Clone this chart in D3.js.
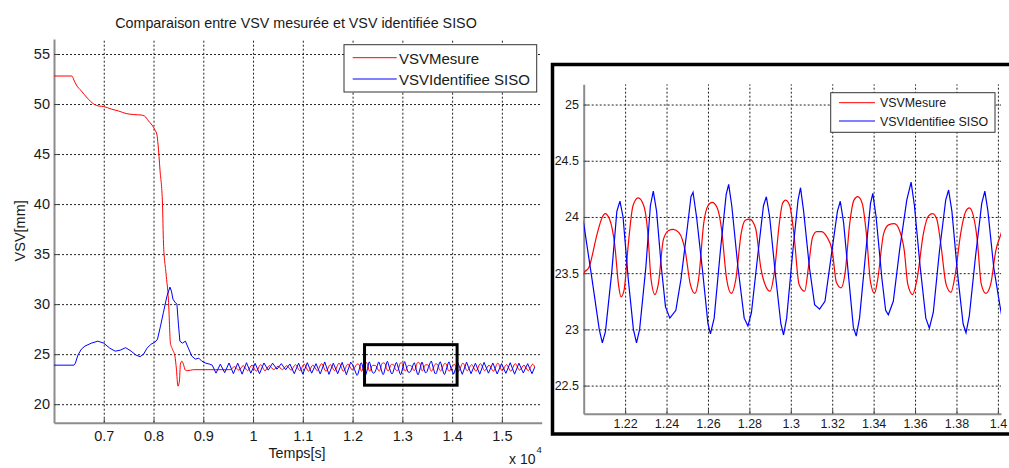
<!DOCTYPE html>
<html>
<head>
<meta charset="utf-8">
<script src="https://cdn.jsdelivr.net/npm/d3@7"></script>
<style>
  body { margin: 0; background: #fff; }
  text { font-family: "Liberation Sans", Arial, sans-serif; fill: #1a1a1a; }
</style>
</head>
<body>
<script>
// tick values (time in x 10^4 s)
var xTicksMain = [0.7, 0.8, 0.9, 1, 1.1, 1.2, 1.3, 1.4, 1.5];
var yTicksMain = [20, 25, 30, 35, 40, 45, 50, 55];
var xTicksZoom = [1.22, 1.24, 1.26, 1.28, 1.3, 1.32, 1.34, 1.36, 1.38, 1.4];
var yTicksZoom = [22.5, 23, 23.5, 24, 24.5, 25];

var seriesNames = ["VSVMesure", "VSVIdentifiee SISO"];
var seriesColors = ["#ff0000", "#0000ff"];

// measured VSV : start-up transient
var mesureTransient = [
  [0.600, 52.8], [0.636, 52.8], [0.640, 52.4], [0.645, 51.9], [0.655, 51.3], [0.667, 50.6],
  [0.680, 50.0], [0.690, 49.8], [0.700, 49.75], [0.715, 49.5], [0.730, 49.3], [0.745, 49.05],
  [0.760, 48.95], [0.775, 48.9], [0.782, 48.8], [0.790, 48.3], [0.797, 47.9], [0.803, 47.4],
  [0.807, 46.9], [0.809, 46.0], [0.813, 43.4], [0.818, 40.0], [0.820, 36.1], [0.825, 33.1],
  [0.830, 30.4], [0.834, 26.1], [0.838, 25.5], [0.843, 24.8], [0.846, 23.5], [0.849, 21.8],
  [0.852, 22.3], [0.854, 24.0], [0.857, 24.3], [0.860, 24.0], [0.864, 23.4], [0.869, 23.35],
  [0.880, 23.45], [0.900, 23.45], [0.925, 23.45], [0.945, 23.45], [0.954, 23.45]
];

// measured VSV : oscillations
var mesureOsc = [
  [0.9628, 23.75], [0.9715, 23.40], [0.9802, 23.85], [0.9890, 23.35], [0.9978, 23.90],
  [1.0065, 23.30], [1.0152, 23.95], [1.0240, 23.35], [1.0328, 23.85], [1.0415, 23.45],
  [1.0502, 23.80], [1.0590, 23.45], [1.0678, 23.85], [1.0765, 23.40], [1.0852, 23.95],
  [1.0940, 23.35], [1.1028, 24.00], [1.1115, 23.30], [1.1202, 23.90], [1.1290, 23.35],
  [1.1378, 24.05], [1.1465, 23.30], [1.1552, 23.95], [1.1640, 23.35], [1.1728, 24.10],
  [1.1815, 23.30], [1.1905, 24.00], [1.1990, 23.45],
  [1.2000, 23.50], [1.2025, 23.55], [1.2065, 23.85], [1.2090, 24.00], [1.2103, 24.03],
  [1.2125, 23.98], [1.2150, 23.75], [1.2168, 23.40], [1.2180, 23.29], [1.2195, 23.35],
  [1.2215, 23.75], [1.2238, 24.10], [1.2263, 24.17], [1.2290, 24.10], [1.2310, 23.85],
  [1.2325, 23.45], [1.2344, 23.31], [1.2360, 23.40], [1.2385, 23.80], [1.2410, 23.88],
  [1.2432, 23.89], [1.2460, 23.86], [1.2490, 23.70], [1.2515, 23.40], [1.2537, 23.32],
  [1.2555, 23.45], [1.2580, 23.95], [1.2600, 24.10], [1.2620, 24.13], [1.2645, 24.08],
  [1.2665, 23.90], [1.2690, 23.45], [1.2713, 23.32], [1.2735, 23.45], [1.2760, 23.85],
  [1.2780, 23.97], [1.2801, 23.98], [1.2830, 23.90], [1.2855, 23.55], [1.2880, 23.38],
  [1.2900, 23.34], [1.2920, 23.50], [1.2945, 23.95], [1.2960, 24.12], [1.2975, 24.15],
  [1.2995, 24.10], [1.3015, 23.85], [1.3040, 23.40], [1.3067, 23.34], [1.3085, 23.55],
  [1.3105, 23.82], [1.3125, 23.87], [1.3147, 23.87], [1.3175, 23.82], [1.3200, 23.70],
  [1.3220, 23.42], [1.3243, 23.37], [1.3262, 23.50], [1.3285, 23.95], [1.3305, 24.15],
  [1.3323, 24.18], [1.3345, 24.12], [1.3365, 23.85], [1.3385, 23.42], [1.3404, 23.32],
  [1.3420, 23.45], [1.3448, 23.85], [1.3472, 23.93], [1.3500, 23.94], [1.3525, 23.88],
  [1.3548, 23.70], [1.3565, 23.40], [1.3588, 23.31], [1.3610, 23.45], [1.3640, 23.85],
  [1.3665, 24.01], [1.3685, 24.03], [1.3705, 23.98], [1.3725, 23.75], [1.3750, 23.40],
  [1.3773, 23.33], [1.3795, 23.50], [1.3820, 23.85], [1.3845, 24.05], [1.3862, 24.08],
  [1.3880, 24.02], [1.3900, 23.80], [1.3920, 23.40], [1.3942, 23.32], [1.3965, 23.40],
  [1.3990, 23.70], [1.4015, 23.85],
  [1.4040, 24.00], [1.4130, 23.30], [1.4215, 24.10], [1.4305, 23.35], [1.4392, 23.95],
  [1.4480, 23.30], [1.4568, 24.05], [1.4655, 23.35], [1.4742, 23.90], [1.4830, 23.30],
  [1.4918, 24.10], [1.5005, 23.35], [1.5092, 23.95], [1.5180, 23.30], [1.5268, 24.05],
  [1.5355, 23.40], [1.5442, 23.90], [1.5530, 23.35], [1.5618, 24.00], [1.5660, 23.70]
];

// identified VSV (SISO model) : start-up transient
var identTransient = [
  [0.600, 23.9], [0.640, 23.9], [0.643, 24.1], [0.648, 24.9], [0.655, 25.5], [0.662, 25.8],
  [0.675, 26.1], [0.688, 26.3], [0.700, 26.1], [0.712, 25.6], [0.723, 25.3], [0.733, 25.4],
  [0.744, 25.65], [0.755, 25.3], [0.765, 24.9], [0.773, 24.75], [0.780, 25.0], [0.787, 25.6],
  [0.795, 26.0], [0.803, 26.2], [0.808, 26.5], [0.814, 27.8], [0.820, 29.2], [0.827, 30.8],
  [0.833, 31.7], [0.836, 31.3], [0.839, 30.5], [0.843, 30.2], [0.847, 30.0], [0.850, 28.0],
  [0.853, 26.3], [0.858, 26.1], [0.864, 26.3], [0.870, 25.6], [0.877, 24.8], [0.884, 24.5],
  [0.891, 24.6], [0.897, 24.3], [0.905, 24.1], [0.913, 24.0], [0.918, 23.9]
];

// identified VSV : oscillations
var identOsc = [
  [0.9255, 23.10], [0.9342, 24.00], [0.9430, 23.15], [0.9517, 24.12], [0.9605, 23.05],
  [0.9692, 24.10], [0.9780, 23.00], [0.9868, 24.15], [0.9955, 23.10], [1.0042, 24.08],
  [1.0130, 23.05], [1.0218, 24.12], [1.0305, 23.40], [1.0392, 24.10], [1.0480, 23.50],
  [1.0568, 24.05], [1.0655, 23.45], [1.0740, 24.02], [1.0828, 23.05], [1.0915, 24.10],
  [1.1000, 23.00], [1.1090, 24.15], [1.1178, 23.10], [1.1265, 24.05], [1.1350, 23.02],
  [1.1440, 24.22], [1.1525, 22.98], [1.1612, 24.10], [1.1700, 23.05], [1.1790, 24.18],
  [1.1875, 22.95], [1.1962, 24.20],
  [1.2000, 23.94], [1.2040, 23.45], [1.2075, 23.00], [1.2090, 22.88], [1.2105, 22.98],
  [1.2135, 23.50], [1.2160, 24.05], [1.2175, 24.14], [1.2190, 24.00], [1.2215, 23.45],
  [1.2240, 23.00], [1.2255, 22.88], [1.2270, 23.00], [1.2300, 23.55], [1.2322, 24.10],
  [1.2336, 24.23], [1.2352, 24.05], [1.2375, 23.55], [1.2395, 23.20], [1.2416, 23.10],
  [1.2445, 23.17], [1.2470, 23.45], [1.2500, 23.90], [1.2518, 24.18], [1.2528, 24.22],
  [1.2545, 24.00], [1.2575, 23.50], [1.2600, 23.05], [1.2612, 22.96], [1.2630, 23.10],
  [1.2660, 23.70], [1.2688, 24.20], [1.2700, 24.29], [1.2715, 24.10], [1.2745, 23.55],
  [1.2775, 23.10], [1.2793, 23.03], [1.2810, 23.15], [1.2840, 23.65], [1.2868, 24.10],
  [1.2882, 24.18], [1.2898, 24.00], [1.2925, 23.50], [1.2952, 23.05], [1.2965, 22.95],
  [1.2980, 23.10], [1.3010, 23.70], [1.3035, 24.15], [1.3047, 24.26], [1.3062, 24.05],
  [1.3090, 23.55], [1.3115, 23.22], [1.3139, 23.18], [1.3165, 23.25], [1.3195, 23.65],
  [1.3225, 24.05], [1.3239, 24.14], [1.3255, 23.95], [1.3280, 23.45], [1.3302, 23.02],
  [1.3316, 22.94], [1.3332, 23.10], [1.3360, 23.65], [1.3385, 24.12], [1.3396, 24.21],
  [1.3412, 24.00], [1.3440, 23.45], [1.3458, 23.17], [1.3471, 23.13], [1.3495, 23.25],
  [1.3525, 23.70], [1.3560, 24.15], [1.3581, 24.31], [1.3597, 24.10], [1.3625, 23.55],
  [1.3652, 23.10], [1.3669, 23.01], [1.3688, 23.15], [1.3718, 23.70], [1.3748, 24.15],
  [1.3762, 24.24], [1.3778, 24.05], [1.3805, 23.50], [1.3832, 23.05], [1.3846, 22.97],
  [1.3862, 23.12], [1.3892, 23.65], [1.3922, 24.12], [1.3937, 24.23], [1.3952, 24.05],
  [1.3980, 23.55], [1.4010, 23.21],
  [1.4030, 23.00], [1.4115, 24.15], [1.4205, 22.98], [1.4290, 24.20], [1.4380, 23.05],
  [1.4468, 24.10], [1.4555, 23.00], [1.4642, 24.18], [1.4730, 23.10], [1.4818, 24.12],
  [1.4905, 23.02], [1.4992, 24.05], [1.5080, 23.08], [1.5168, 24.15], [1.5255, 23.00],
  [1.5342, 24.10], [1.5430, 23.12], [1.5518, 24.05], [1.5605, 23.05], [1.5660, 23.70]
];

// zoom window drawn on the main plot
var zoomBox = { x0: 1.224, x1: 1.41, y0: 21.9, y1: 25.95 };

var mesure = mesureTransient.concat(mesureOsc);
var ident = identTransient.concat(identOsc);

var width = 1009, height = 468;
var font = '"Liberation Sans", Arial, sans-serif';

var svg = d3.select("body").append("svg")
  .attr("width", width)
  .attr("height", height);

svg.append("rect").attr("width", width).attr("height", height).attr("fill", "#fff");

/***** main plot *****/

var main = { left: 54, right: 541.7, top: 39, bottom: 422.7 };
var x = d3.scaleLinear().domain([0.6, 1.58]).range([main.left, main.right]);
var y = d3.scaleLinear().domain([18.15, 56.5]).range([main.bottom, main.top]);

drawGrid(svg, x, y, xTicksMain, yTicksMain, main);
drawAxes(svg, x, y, xTicksMain, yTicksMain, main, 14.5, 8, 4);

var lineRed = d3.line().x(function(d) { return x(d[0]); }).y(function(d) { return y(d[1]); })
  .curve(d3.curveMonotoneX);
var lineBlue = d3.line().x(function(d) { return x(d[0]); }).y(function(d) { return y(d[1]); });

svg.append("path").datum(mesure)
  .attr("d", lineRed).attr("fill", "none").attr("stroke", seriesColors[0]).attr("stroke-width", 1);
svg.append("path").datum(ident)
  .attr("d", lineBlue).attr("fill", "none").attr("stroke", seriesColors[1]).attr("stroke-width", 1);

// black rectangle marking the zoomed window
svg.append("rect")
  .attr("x", x(zoomBox.x0)).attr("y", y(zoomBox.y1))
  .attr("width", x(zoomBox.x1) - x(zoomBox.x0))
  .attr("height", y(zoomBox.y0) - y(zoomBox.y1))
  .attr("fill", "none").attr("stroke", "#000").attr("stroke-width", 3);

// title and labels
svg.append("text")
  .attr("x", 296).attr("y", 27.5)
  .attr("text-anchor", "middle").attr("font-size", 14.3)
  .text("Comparaison entre VSV mesurée et VSV identifiée SISO");

svg.append("text")
  .attr("transform", "translate(25," + ((main.top + main.bottom) / 2) + ") rotate(-90)")
  .attr("text-anchor", "middle").attr("font-size", 14.5)
  .text("VSV[mm]");

svg.append("text")
  .attr("x", 297).attr("y", 458)
  .attr("text-anchor", "middle").attr("font-size", 14.3)
  .text("Temps[s]");

var expo = svg.append("text").attr("x", 509).attr("y", 464).attr("font-size", 14);
expo.append("tspan").text("x 10");
expo.append("tspan").attr("font-size", 9.5).attr("dy", -11).attr("dx", 1).text("4");

drawLegend(svg, { x: 344, y: 44.7, w: 192.7, h: 47.3 }, [352.7, 396.7], [57.7, 79], 399, [64.3, 85], 15);

/***** zoomed plot *****/

// white panel with thick black frame (runs off the right edge)
svg.append("rect")
  .attr("x", 552.5).attr("y", 64.5).attr("width", 480).attr("height", 369.5)
  .attr("fill", "#fff").attr("stroke", "#000").attr("stroke-width", 3.5);

var zoom = { left: 583.7, right: 1001, top: 84.3, bottom: 413.7 };
var xz = d3.scaleLinear().domain([1.2, 1.4015]).range([zoom.left, zoom.right]);
var yz = d3.scaleLinear().domain([22.25, 25.18]).range([zoom.bottom, zoom.top]);

drawGrid(svg, xz, yz, xTicksZoom, yTicksZoom, zoom);
drawAxes(svg, xz, yz, xTicksZoom, yTicksZoom, zoom, 12.5, 5.4, 4.7);

svg.append("clipPath").attr("id", "zoomClip")
  .append("rect")
  .attr("x", zoom.left).attr("y", zoom.top)
  .attr("width", zoom.right - zoom.left).attr("height", zoom.bottom - zoom.top);

var zRed = d3.line().x(function(d) { return xz(d[0]); }).y(function(d) { return yz(d[1]); })
  .curve(d3.curveMonotoneX);
var zBlue = d3.line().x(function(d) { return xz(d[0]); }).y(function(d) { return yz(d[1]); });

var zg = svg.append("g").attr("clip-path", "url(#zoomClip)");
zg.append("path").datum(mesureOsc)
  .attr("d", zRed).attr("fill", "none").attr("stroke", seriesColors[0]).attr("stroke-width", 1.2);
zg.append("path").datum(identOsc)
  .attr("d", zBlue).attr("fill", "none").attr("stroke", seriesColors[1]).attr("stroke-width", 1.2);

drawLegend(svg, { x: 830.7, y: 92.7, w: 164.3, h: 39.6 }, [839, 875], [102.7, 121], 880, [107, 126], 12.4);

/***** helpers *****/

function drawGrid(parent, sx, sy, xt, yt, box) {
  var gx = parent.append("g")
    .attr("transform", "translate(0," + box.bottom + ")")
    .call(d3.axisBottom(sx).tickValues(xt).tickSize(-(box.bottom - box.top)).tickFormat(""));
  var gy = parent.append("g")
    .attr("transform", "translate(" + box.left + ",0)")
    .call(d3.axisLeft(sy).tickValues(yt).tickSize(-(box.right - box.left)).tickFormat(""));
  [gx, gy].forEach(function(g) {
    g.select(".domain").remove();
    g.selectAll("line")
      .attr("stroke", "#222")
      .attr("stroke-width", 1)
      .attr("stroke-dasharray", "2,2");
  });
}

function drawAxes(parent, sx, sy, xt, yt, box, fs, padX, padY) {
  var gx = parent.append("g")
    .attr("transform", "translate(0," + box.bottom + ")")
    .call(d3.axisBottom(sx).tickValues(xt).tickSizeInner(-4).tickSizeOuter(0).tickPadding(padX)
      .tickFormat(function(d) { return String(d); }));
  var gy = parent.append("g")
    .attr("transform", "translate(" + box.left + ",0)")
    .call(d3.axisLeft(sy).tickValues(yt).tickSizeInner(-4).tickSizeOuter(0).tickPadding(padY)
      .tickFormat(function(d) { return String(d); }));
  [gx, gy].forEach(function(g) {
    g.attr("font-family", font).attr("font-size", fs);
    g.select(".domain").attr("stroke", "#8c8c8c").attr("stroke-width", 2);
    g.selectAll(".tick line").attr("stroke", "#444");
    g.selectAll(".tick text").attr("fill", "#1a1a1a");
  });
}

function drawLegend(parent, box, lineX, lineY, textX, textY, fs) {
  var lg = parent.append("g");
  lg.append("rect")
    .attr("x", box.x).attr("y", box.y).attr("width", box.w).attr("height", box.h)
    .attr("fill", "#fff").attr("stroke", "#333").attr("stroke-width", 1);
  seriesNames.forEach(function(name, i) {
    lg.append("line")
      .attr("x1", lineX[0]).attr("x2", lineX[1])
      .attr("y1", lineY[i]).attr("y2", lineY[i])
      .attr("stroke", seriesColors[i]).attr("stroke-width", 1);
    lg.append("text")
      .attr("x", textX).attr("y", textY[i])
      .attr("font-size", fs)
      .text(name);
  });
}
</script>
</body>
</html>
